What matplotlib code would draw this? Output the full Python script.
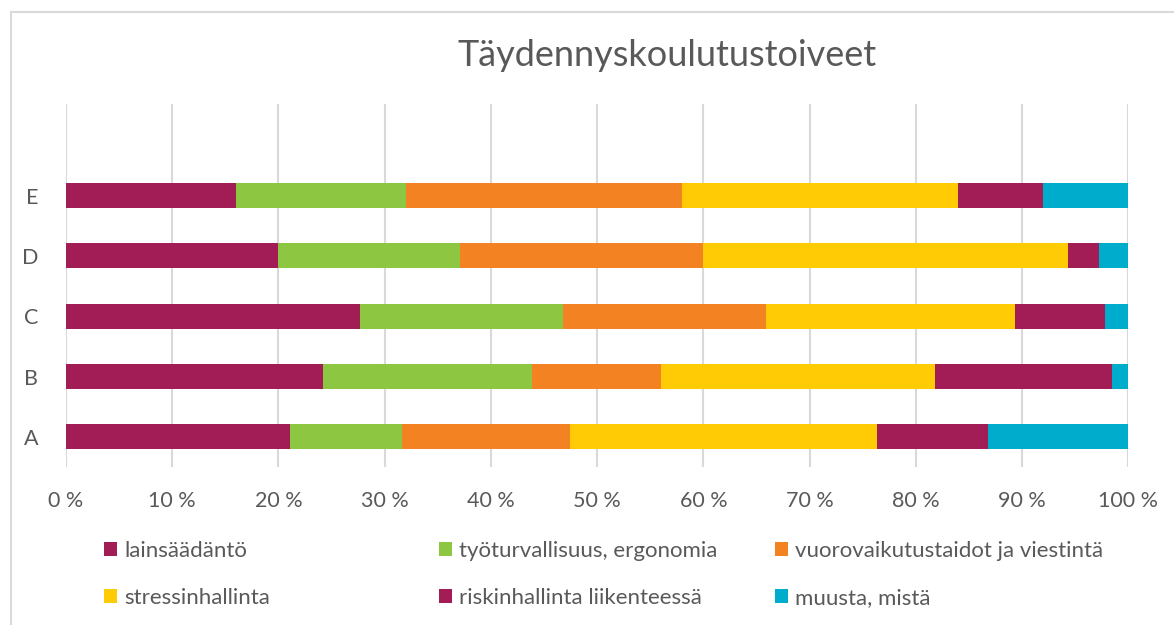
import numpy as np
import matplotlib.pyplot as plt
from matplotlib.patches import Patch
from matplotlib.lines import Line2D

plt.rcParams['font.family'] = ['Lato', 'DejaVu Sans']

categories = ["A", "B", "C", "D", "E"]
series_names = ["lainsäädäntö", "työturvallisuus, ergonomia",
                "vuorovaikutustaidot ja viestintä", "stressinhallinta",
                "riskinhallinta liikenteessä", "muusta, mistä"]
colors = ["#A21C55", "#8DC641", "#F38322", "#FFCB05", "#A21C55", "#00ACCB"]

# percentage shares per category (A..E)
lainsaadanto = [21.1, 24.2, 27.7, 20.0, 16.0]
tyoturvallisuus = [10.5, 19.7, 19.1, 17.1, 16.0]
vuorovaikutus = [15.8, 12.1, 19.1, 22.9, 26.0]
stressi = [28.9, 25.8, 23.4, 34.3, 26.0]
riski = [10.5, 16.7, 8.5, 2.9, 8.0]
muusta = [13.2, 1.5, 2.2, 2.8, 8.0]
xticks = [0, 10, 20, 30, 40, 50, 60, 70, 80, 90, 100]
xticklabels = [f"{t} %" for t in xticks]

series = [lainsaadanto, tyoturvallisuus, vuorovaikutus, stressi, riski, muusta]

W, H = 1174, 625
fig = plt.figure(figsize=(W / 100, H / 100), dpi=100)
ax = fig.add_axes([66 / W, 1 - 467 / H, (1128.3 - 66) / W, (467 - 104) / H])

y = np.arange(len(categories))
left = np.zeros(len(categories))
for vals, col in zip(series, colors):
    ax.barh(y, vals, left=left, height=0.415, color=col, zorder=3)
    left += np.array(vals)

ax.set_xlim(0, 100)
ax.set_ylim(-0.5, 5.52)
ax.set_xticks(xticks)
ax.set_xticklabels(xticklabels)
ax.set_yticks(y)
ax.set_yticklabels(categories)
ax.grid(axis='x', color='#D9D9D9', lw=1.5, zorder=0)
for s in ax.spines.values():
    s.set_visible(False)
ax.tick_params(axis='x', length=0, pad=17, labelsize=15.5, labelcolor='#595959')
ax.tick_params(axis='y', length=0, pad=20, labelsize=15.5, labelcolor='#595959')

fig.text(667 / W, 1 - 56 / H, "Täydennyskoulutustoiveet", ha='center', va='center',
         fontsize=26, color='#595959')

# chart border (left and top edges visible)
fig.add_artist(Line2D([11 / W, 11 / W], [0, 1 - 12 / H], transform=fig.transFigure,
                      color='#D9D9D9', lw=1.5))
fig.add_artist(Line2D([11 / W, 1], [1 - 12 / H, 1 - 12 / H], transform=fig.transFigure,
                      color='#D9D9D9', lw=1.5))

# legend: three columns of two entries
col_x = [104, 439, 775]
for c in range(3):
    idx = [c, c + 3]
    handles = [Patch(facecolor=colors[i], edgecolor='none') for i in idx]
    labels = [series_names[i] for i in idx]
    fig.legend(handles, labels, loc='upper left',
               bbox_to_anchor=(col_x[c] / W, 1 - 541 / H),
               frameon=False, fontsize=16, labelcolor='#595959',
               handlelength=0.6, handleheight=0.6, handletextpad=0.3,
               labelspacing=1.2, borderpad=0, borderaxespad=0)

fig.savefig("out.png", dpi=100)
